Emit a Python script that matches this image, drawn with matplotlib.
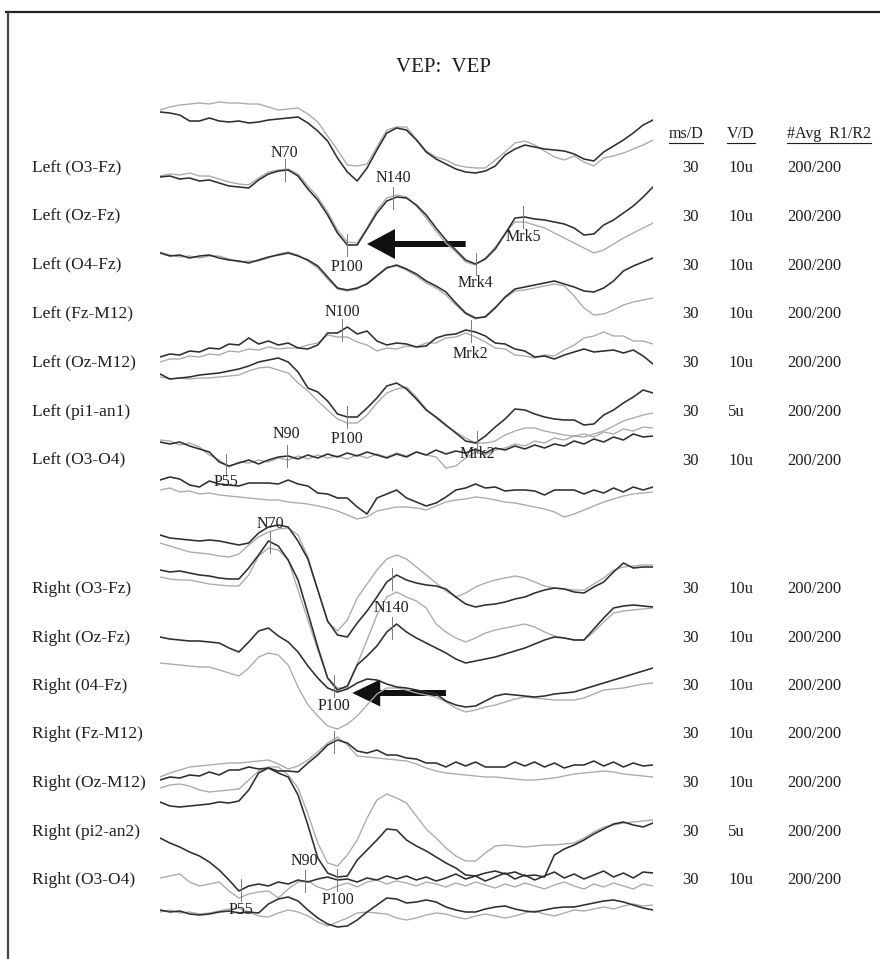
import numpy as np
import matplotlib
matplotlib.use("Agg")
import matplotlib.pyplot as plt
from matplotlib.patches import FancyArrow

plt.rcParams['font.family'] = ['Liberation Serif', 'DejaVu Serif']

# ---------------- DATA ----------------
title = "VEP:  VEP"
left_labels = ["Left (O3-Fz)", "Left (Oz-Fz)", "Left (O4-Fz)", "Left (Fz-M12)",
               "Left (Oz-M12)", "Left (pi1-an1)", "Left (O3-O4)"]
right_labels = ["Right (O3-Fz)", "Right (Oz-Fz)", "Right (04-Fz)", "Right (Fz-M12)",
                "Right (Oz-M12)", "Right (pi2-an2)", "Right (O3-O4)"]
col_headers = ["ms/D", "V/D", "#Avg  R1/R2"]
ms_per_div = ["30"] * 14
v_per_div = ["10u", "10u", "10u", "10u", "10u", "5u", "10u",
             "10u", "10u", "10u", "10u", "10u", "5u", "10u"]
n_avg = ["200/200"] * 14

# sampling: 51 samples, 6 ms apart (0..300 ms); values = deflection (positive down)
sample_ms = 6
n_samples = 51

# Left hemifield traces: R1 (dark) and R2 (grey)
L1_r1 = [0,1,3,9,9,6,9,10,9,11,10,8,7,6,5,11,19,29,46,60,69,56,38,21,16,18,28,40,47,52,57,60,61,59,54,43,37,33,35,37,38,39,42,47,49,40,34,28,21,13,8]
L1_r2 = [-2,-5,-7,-8,-9,-8,-10,-9,-9,-8,-8,-5,-2,-3,-4,2,10,24,38,53,54,52,35,18,15,15,27,39,45,48,53,55,56,56,48,40,31,29,33,39,45,48,44,50,54,46,44,41,37,33,28]
L2_r1 = [0,-1,2,1,4,3,6,9,10,11,3,-3,-6,-7,-1,12,23,38,56,68,68,52,36,24,20,21,28,38,51,63,73,83,87,82,72,57,41,40,42,43,45,47,51,58,57,48,43,36,29,20,10]
L2_r2 = [-1,-3,-2,-4,-1,-1,2,5,7,8,1,-5,-7,-8,-3,9,20,35,53,65,66,51,33,21,18,20,29,41,54,66,75,85,88,81,70,56,45,45,48,51,56,61,66,71,76,73,67,61,56,51,46]
L3_r1 = [0,3,2,5,3,2,5,7,8,10,7,4,2,0,3,7,13,24,35,37,35,31,23,15,12,16,21,28,33,39,50,60,65,64,55,44,36,34,32,30,28,31,34,38,39,35,28,18,13,9,5]
L3_r2 = [-1,2,4,3,5,3,3,6,9,8,8,5,1,-1,2,8,15,26,36,38,36,30,22,14,13,17,23,30,35,42,52,61,66,63,54,45,38,37,35,33,31,33,43,55,62,61,57,52,49,47,45]
L4_r1 = [0,-3,-2,-6,-5,-9,-8,-13,-12,-19,-13,-16,-12,-14,-9,-8,-12,-24,-24,-30,-23,-26,-16,-12,-14,-13,-10,-11,-19,-22,-23,-27,-25,-21,-14,-13,-8,-6,0,-1,2,-2,-5,-8,-5,-6,-7,-4,-7,-1,7]
L4_r2 = [5,2,2,-1,0,-3,-2,-6,-5,-8,-7,-10,-8,-9,-9,-12,-14,-22,-20,-20,-15,-12,-6,-9,-8,-11,-10,-14,-14,-19,-20,-24,-20,-15,-9,-8,-2,-1,1,-2,-1,-7,-12,-19,-21,-25,-21,-21,-16,-16,-13]
L5_r1 = [-1,4,3,2,0,-1,-2,-4,-6,-9,-13,-15,-17,-13,-3,13,17,26,39,42,42,33,23,11,8,14,24,35,42,50,58,66,68,61,52,44,34,35,39,42,44,45,45,50,49,40,35,28,22,15,18]
L5_r2 = [2,4,3,4,3,3,2,1,0,-4,-7,-8,-5,-2,8,16,26,35,44,48,48,40,28,18,14,12,22,34,43,51,57,63,68,68,66,60,56,53,53,56,58,60,61,62,59,56,51,46,43,40,38]
L6_r1 = [0,2,0,4,7,10,20,24,21,18,22,18,15,14,17,13,16,12,15,11,14,10,13,16,12,15,10,13,8,12,9,11,7,11,6,8,4,7,3,6,2,4,-1,2,-3,0,-5,-2,-8,-5,-6]
L6_r2 = [-2,-1,3,1,5,13,18,25,20,21,18,20,16,18,14,17,13,16,14,17,13,16,12,15,11,14,10,13,15,26,24,16,10,13,8,6,2,4,-1,1,-4,-2,-6,-8,-5,-10,-8,-13,-11,-15,-14]
L7_r1 = [0,-3,-1,5,7,1,4,5,6,3,3,3,4,0,4,6,13,14,18,18,27,34,18,14,10,18,22,26,23,17,10,8,4,8,7,11,10,10,11,15,10,10,10,14,10,13,8,12,7,10,7]
L7_r2 = [10,8,12,11,14,13,15,16,17,18,19,20,20,22,23,24,26,28,31,35,39,37,31,29,27,27,28,30,26,22,20,19,17,18,20,22,23,25,27,29,32,37,34,30,26,22,19,16,14,13,12]

# Right hemifield traces
R1_r1 = [-2,1,2,3,4,3,4,6,8,6,-4,-10,-12,-10,4,22,53,84,98,100,86,74,60,45,38,43,46,48,49,52,60,67,70,68,67,65,62,60,56,53,51,52,55,56,50,45,35,26,31,30,30]
R1_r2 = [6,9,12,15,16,17,19,20,17,8,0,-5,-8,-9,-2,20,53,85,94,83,61,47,33,22,18,22,30,38,46,54,60,56,50,46,43,41,39,41,45,49,51,52,53,53,47,41,33,30,29,28,28]
R2_r1 = [0,2,1,3,5,6,8,9,9,-2,-15,-29,-24,-10,10,43,77,108,120,116,95,86,76,62,54,62,68,73,78,83,89,93,91,89,87,84,81,78,74,70,67,68,70,70,59,48,38,36,35,36,37]
R2_r2 = [7,9,10,10,12,14,15,16,16,5,-14,-22,-20,-10,20,50,80,108,118,118,94,70,45,27,22,27,31,38,54,62,68,72,68,63,60,58,56,54,57,62,66,68,70,70,62,52,43,41,40,39,38]
R3_r1 = [0,2,3,4,4,5,6,11,15,5,-6,-9,-1,5,15,29,41,51,55,52,46,42,43,47,50,51,53,55,57,64,68,70,69,64,59,57,58,59,60,59,57,56,55,52,49,46,43,40,37,34,31]
R3_r2 = [26,27,28,29,30,30,33,36,39,31,20,16,18,28,50,68,79,89,92,87,79,68,57,51,51,53,56,58,60,65,71,75,73,70,68,65,62,60,61,62,63,63,63,61,57,53,52,51,49,47,46]
R4_r1 = [0,-3,-2,-5,-4,-8,-5,-10,-10,-13,-11,-12,-9,-9,-8,-17,-25,-35,-40,-37,-29,-27,-30,-25,-25,-22,-21,-17,-17,-13,-18,-14,-18,-13,-13,-13,-18,-14,-18,-13,-17,-12,-15,-15,-19,-14,-18,-13,-17,-14,-15]
R4_r2 = [-3,-7,-10,-13,-14,-15,-16,-17,-17,-18,-19,-20,-16,-11,-14,-20,-28,-37,-43,-35,-24,-23,-22,-21,-20,-19,-16,-12,-9,-7,-6,-5,-4,-3,-3,-2,-1,0,0,-1,-2,-4,-6,-7,-8,-9,-8,-6,-5,-4,-3]
R5_r1 = [0,4,5,4,3,2,0,1,-1,-12,-29,-34,-29,-25,-7,23,56,71,75,74,58,48,38,27,28,38,44,49,55,61,66,73,74,71,69,72,70,74,73,75,53,47,43,38,32,27,22,20,23,25,21]
R5_r2 = [-14,-17,-18,-16,-12,-10,-11,-12,-13,-22,-31,-35,-35,-27,-14,12,41,61,64,53,38,16,-2,-8,-4,1,14,27,36,46,54,59,59,51,44,43,44,45,44,43,43,42,41,36,30,25,23,21,20,19,18]
R6_r1 = [0,5,9,14,18,24,32,42,53,48,46,48,44,46,42,44,41,39,42,41,44,40,42,38,41,38,42,39,43,40,36,41,38,43,39,35,41,37,42,38,34,40,36,41,37,33,39,35,40,34,35]
R6_r2 = [40,38,36,44,48,46,44,53,60,56,54,53,60,51,44,43,49,52,48,45,49,44,42,46,43,45,48,44,46,49,45,48,44,47,50,46,49,45,48,51,47,44,48,51,46,49,45,48,51,46,48]
R7_r1 = [0,2,1,4,5,4,2,1,3,2,3,-6,-11,-13,-9,0,8,14,17,16,10,2,-5,-12,-11,-7,-8,-10,-8,-3,0,2,2,-1,-3,-4,-1,1,2,0,-2,-3,-3,-5,-7,-9,-10,-8,-5,-2,0]
R7_r2 = [2,0,3,2,4,3,1,-1,-2,2,6,7,3,0,2,6,12,16,12,8,3,2,3,4,8,10,8,5,3,4,7,9,6,4,6,8,6,3,1,4,6,3,0,1,-1,-3,-1,-4,-6,-4,-5]

# Peak markers: (trace key, latency ms, label)
markers = [
    ("L2", 76, "N70"), ("L2", 142, "N140"), ("L2", 114, "P100"),
    ("L2", 192, "Mrk4"), ("L2", 221, "Mrk5"),
    ("L4", 111, "N100"), ("L4", 189, "Mrk2"),
    ("L5", 114, "P100"), ("L5", 193, "Mrk2"),
    ("L6", 77, "N90"), ("L6", 40, "P55"),
    ("R2", 67, "N70"), ("R1", 141, "N140"), ("R2", 141, ""),
    ("R2", 106, "P100"), ("R4", 106, ""),
    ("R6", 88, "N90"), ("R6", 108, "P100"), ("R6", 49, "P55"),
]

# ---------------- LAYOUT ----------------
W, H = 880, 959
baselines = {"L1": 112, "L2": 177, "L3": 253, "L4": 357, "L5": 375, "L6": 442, "L7": 480,
             "R1": 537, "R2": 570, "R3": 637, "R4": 780, "R5": 802, "R6": 838, "R7": 910}
label_dy = [-17, -20, 22, 19, 20, -18, 23, 22, 12, -22, 17, -18, 30, 0, 20, 0, -20, 20, 20]
left_rows_y = [168 + 48.8 * i for i in range(7)]
right_rows_y = [589 + 48.5 * i for i in range(7)]

traces = {
    "L1": (L1_r1, L1_r2), "L2": (L2_r1, L2_r2), "L3": (L3_r1, L3_r2), "L4": (L4_r1, L4_r2),
    "L5": (L5_r1, L5_r2), "L6": (L6_r1, L6_r2), "L7": (L7_r1, L7_r2),
    "R1": (R1_r1, R1_r2), "R2": (R2_r1, R2_r2), "R3": (R3_r1, R3_r2), "R4": (R4_r1, R4_r2),
    "R5": (R5_r1, R5_r2), "R6": (R6_r1, R6_r2), "R7": (R7_r1, R7_r2),
}

DARK = "#2e2e2e"
GREY = "#a9a9a9"
TXT = "#1e1e1e"

fig = plt.figure(figsize=(W / 100, H / 100), dpi=100)
bg = fig.add_axes([0, 0, 1, 1])
bg.set_xlim(0, W)
bg.set_ylim(H, 0)
bg.axis("off")

ax = fig.add_axes([160 / W, 0, 493 / W, 1])
ax.set_xlim(0, 300)
ax.set_ylim(H, 0)
ax.axis("off")

t = np.arange(n_samples) * sample_ms

# frame (top and left rules)
bg.plot([5, W], [12, 12], color="#222222", lw=1.6, solid_capstyle="butt", clip_on=False)
bg.plot([8, 8], [12, H], color="#444444", lw=1.6, solid_capstyle="butt", clip_on=False)

bg.text(443, 67, title, ha="center", va="center", fontsize=15, color=TXT)

# traces
for key, (r1, r2) in traces.items():
    b = baselines[key]
    ax.plot(t, b + np.array(r2), color=GREY, lw=0.95, solid_joinstyle="round")
for key, (r1, r2) in traces.items():
    b = baselines[key]
    ax.plot(t, b + np.array(r1), color=DARK, lw=1.15, solid_joinstyle="round")

# markers
for (key, lat, lab), dy in zip(markers, label_dy):
    yv = baselines[key] + np.interp(lat, t, traces[key][0])
    ax.plot([lat, lat], [yv - 11, yv + 11], color="#7a7a7a", lw=0.7)
    if lab:
        ax.text(lat, yv + dy, lab, ha="center", va="center", fontsize=11.5, color=TXT)

# arrows
ax.add_patch(FancyArrow(186, 244, -60, 0, width=6, head_width=30, head_length=17,
                        length_includes_head=True, color="#111111", lw=0))
ax.add_patch(FancyArrow(174, 693, -57, 0, width=6, head_width=27, head_length=17,
                        length_includes_head=True, color="#111111", lw=0))

# channel labels
for y, lab in zip(left_rows_y, left_labels):
    bg.text(32, y, lab, ha="left", va="center", fontsize=12.5, color=TXT)
for y, lab in zip(right_rows_y, right_labels):
    bg.text(32, y, lab, ha="left", va="center", fontsize=12.5, color=TXT)

# table columns
hdrs = []
hdrs.append(bg.text(686, 134, col_headers[0], ha="center", va="center", fontsize=11.5, color=TXT))
hdrs.append(bg.text(741, 134, col_headers[1], ha="center", va="center", fontsize=11.5, color=TXT))
hdrs.append(bg.text(787, 134, col_headers[2], ha="left", va="center", fontsize=11.5, color=TXT))
rows_y = left_rows_y + right_rows_y
for i, y in enumerate(rows_y):
    bg.text(690, y, ms_per_div[i], ha="center", va="center", fontsize=12, color=TXT)
    bg.text(728, y, v_per_div[i], ha="left", va="center", fontsize=12, color=TXT)
    bg.text(787, y, n_avg[i], ha="left", va="center", fontsize=12, color=TXT)

fig.canvas.draw()
inv = bg.transData.inverted()
for h in hdrs:
    bb = h.get_window_extent()
    (x0, y0), (x1, y1) = inv.transform([(bb.x0, bb.y0), (bb.x1, bb.y1)])
    bg.plot([x0, x1], [y0 + 1, y0 + 1], color=TXT, lw=0.8)

fig.savefig("out.png", dpi=100)
